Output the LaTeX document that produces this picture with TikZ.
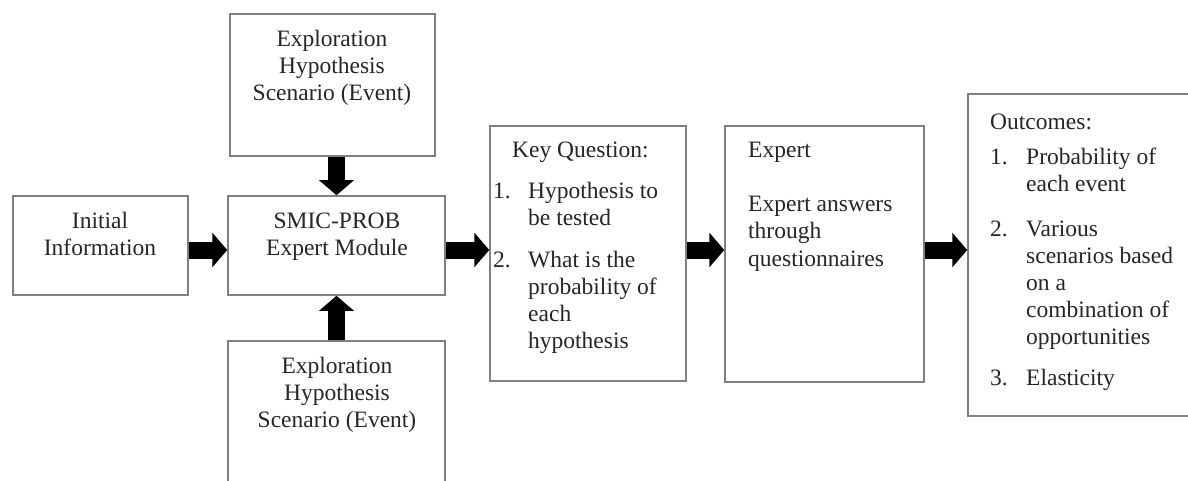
\documentclass[tikz,border=0pt]{standalone}
\usepackage{fontspec}
\setmainfont{Liberation Serif}
\usetikzlibrary{arrows.meta}

\begin{document}
\begin{tikzpicture}[x=1pt,y=-1pt,
		box/.style={draw=black!50,line width=1.5pt,fill=white,inner sep=0pt},
		txt/.style={inner sep=0pt,text=black!85,font=\fontsize{23.5}{27}\selectfont},
		blockarrow/.style={line width=17pt,-{Triangle[length=15pt,width=34pt]}}]
		\clip (0,0) rectangle (1188,481);
		\path[fill=white] (0,0) rectangle (1188,481);
		
		\node[box,minimum width=205pt,minimum height=142pt] (top) at (332.5,85) {};
		\node[box,minimum width=175pt,minimum height=99pt] (init) at (100.5,245.5) {};
		\node[box,minimum width=217pt,minimum height=99pt] (smic) at (336.5,245.5) {};
		\node[box,minimum width=217pt,minimum height=159pt] (bottom) at (336.5,420.5) {};
		\node[box,minimum width=196pt,minimum height=255pt] (key) at (588,253.5) {};
		\node[box,minimum width=199pt,minimum height=256pt] (expert) at (824.5,254) {};
		\node[box,minimum width=232pt,minimum height=322pt] (outcomes) at (1084,255) {};
		
		\node[txt,anchor=base] (topText) at (332,47) {\begin{tabular}[t]{@{}c@{}}Exploration\\Hypothesis\\Scenario (Event)\end{tabular}};
		\node[txt,anchor=base] (initText) at (100,228) {\begin{tabular}[t]{@{}c@{}}Initial\\Information\end{tabular}};
		\node[txt,anchor=base] (smicText) at (337,228) {\begin{tabular}[t]{@{}c@{}}SMIC-PROB\\Expert Module\end{tabular}};
		\node[txt,anchor=base] (bottomText) at (337,373) {\begin{tabular}[t]{@{}c@{}}Exploration\\Hypothesis\\Scenario (Event)\end{tabular}};
		\node[txt,anchor=base west] (keyText) at (493,158) {\begin{tabular}[t]{@{}p{35pt}@{}l@{}}
				\multicolumn{2}{@{\hspace{19pt}}l@{}}{Key Question:}\\[14pt]
				1. & Hypothesis to\\
				& be tested\\[15pt]
				2. & What is the\\
				& probability of\\
				& each\\
				& hypothesis
			\end{tabular}};
		\node[txt,anchor=base west] (expertText) at (748,158) {\begin{tabular}[t]{@{}l@{}}
				Expert\\[27pt]
				Expert answers\\
				through\\
				questionnaires
			\end{tabular}};
		\node[txt,anchor=base west] (outcomesText) at (990,130) {\begin{tabular}[t]{@{}p{36pt}@{}l@{}}
				\multicolumn{2}{@{}l@{}}{Outcomes:}\\[8pt]
				1. & Probability of\\
				& each event\\[18pt]
				2. & Various\\
				& scenarios based\\
				& on a\\
				& combination of\\
				& opportunities\\[14pt]
				3. & Elasticity
			\end{tabular}};
		
		\coordinate (flow) at (0,250);
		\draw[blockarrow] (top.south -| smic.north) -- (smic.north);
		\draw[blockarrow] (bottom.north -| smic.south) -- (smic.south);
		\draw[blockarrow] (init.east |- flow) -- (smic.west |- flow);
		\draw[blockarrow] (smic.east |- flow) -- (key.west |- flow);
		\draw[blockarrow] (key.east |- flow) -- (expert.west |- flow);
		\draw[blockarrow] (expert.east |- flow) -- (outcomes.west |- flow);
	\end{tikzpicture}
\end{document}
